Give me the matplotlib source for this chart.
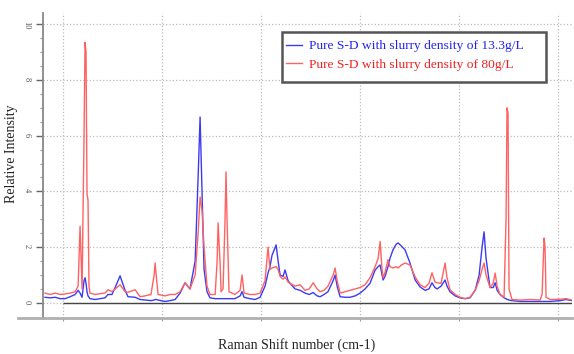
import numpy as np
import matplotlib.pyplot as plt
from matplotlib.patches import Rectangle

# Raman shift (arbitrary cm-1 scale, axis has no tick labels)
shift = [409, 435, 460, 485, 510, 536, 561, 576, 586, 596, 606, 611, 616, 621, 626, 631,
         636, 662, 687, 712, 727, 747, 763, 788, 813, 828, 864, 889, 914, 944, 960, 965,
         970, 980, 1015, 1040, 1066, 1091, 1116, 1141, 1167, 1182, 1192, 1202, 1212, 1227,
         1242, 1268, 1278, 1283, 1293, 1298, 1308, 1318, 1323, 1328, 1338, 1368, 1394, 1404,
         1414, 1444, 1470, 1495, 1520, 1535, 1545, 1555, 1576, 1586, 1596, 1611, 1621, 1636,
         1646, 1672, 1697, 1722, 1743, 1763, 1783, 1798, 1818, 1838, 1864, 1874, 1884, 1899,
         1924, 1949, 1975, 2000, 2025, 2050, 2076, 2091, 2101, 2111, 2116, 2126, 2141, 2151,
         2166, 2182, 2192, 2207, 2227, 2252, 2278, 2303, 2328, 2348, 2363, 2378, 2389, 2409,
         2429, 2439, 2454, 2480, 2505, 2530, 2555, 2581, 2601, 2616, 2626, 2636, 2656, 2672,
         2682, 2692, 2707, 2727, 2737, 2742, 2747, 2752, 2767, 2808, 2858, 2909, 2919, 2929,
         2934, 2939, 2960, 3010, 3040, 3070]

# slurry density 80 g/L
red = [0.35, 0.30, 0.35, 0.30, 0.32, 0.35, 0.40, 0.60, 2.75, 0.50, 6.0, 9.35, 9.0, 3.9, 3.7, 0.6,
       0.35, 0.30, 0.33, 0.35, 0.47, 0.40, 0.50, 0.65, 0.40, 0.38, 0.47, 0.22, 0.25, 0.30, 1.0, 1.43,
       1.0, 0.30, 0.25, 0.30, 0.30, 0.40, 0.72, 0.50, 1.0, 2.5, 3.8, 3.3, 2.0, 0.6,
       0.30, 0.30, 1.5, 2.87, 1.4, 0.4, 0.5, 3.0, 4.7, 3.0, 0.4, 0.30, 0.45, 1.0,
       0.35, 0.30, 0.30, 0.35, 0.8, 2.0, 1.2, 1.25, 1.3, 1.2, 0.95, 0.85, 0.93, 0.75,
       0.70, 0.60, 0.65, 0.45, 0.50, 0.72, 0.50, 0.40, 0.45, 0.60, 1.0, 1.25, 0.8, 0.35,
       0.40, 0.45, 0.50, 0.55, 0.65, 0.90, 1.3, 1.6, 2.2, 1.2, 0.9, 1.1, 1.55, 1.3,
       1.25, 1.3, 1.25, 1.35, 1.43, 1.36, 0.93, 0.65, 0.55, 0.70, 1.08, 0.75, 0.72, 0.70,
       1.43, 0.90, 0.47, 0.30, 0.20, 0.15, 0.20, 0.45, 0.80, 1.2, 1.43, 1.0, 0.55, 0.70,
       1.07, 0.60, 0.30, 0.20, 3.0, 7.0, 6.8, 0.5, 0.12, 0.10, 0.12, 0.10, 0.30, 2.33,
       2.0, 0.20, 0.12, 0.13, 0.15, 0.10]

# slurry density 13.3 g/L
blue = [0.20, 0.18, 0.20, 0.15, 0.15, 0.22, 0.30, 0.45, 0.35, 0.20, 0.80, 0.90, 0.70, 0.40, 0.25, 0.20,
        0.15, 0.12, 0.15, 0.18, 0.30, 0.30, 0.55, 0.97, 0.45, 0.22, 0.20, 0.12, 0.10, 0.08, 0.10, 0.12,
        0.12, 0.10, 0.05, 0.08, 0.12, 0.35, 0.72, 0.50, 1.5, 4.5, 6.67, 4.0, 1.2, 0.40,
        0.18, 0.15, 0.15, 0.15, 0.15, 0.15, 0.15, 0.15, 0.15, 0.15, 0.15, 0.15, 0.25, 0.40,
        0.20, 0.15, 0.12, 0.20, 0.60, 1.07, 1.3, 1.7, 2.08, 1.5, 1.0, 0.95, 1.18, 0.80,
        0.70, 0.50, 0.45, 0.35, 0.30, 0.37, 0.25, 0.22, 0.30, 0.40, 0.80, 1.0, 0.60, 0.22,
        0.20, 0.20, 0.25, 0.35, 0.50, 0.70, 1.18, 1.3, 1.36, 1.0, 0.82, 0.95, 1.3, 1.6,
        1.9, 2.1, 2.15, 2.05, 1.9, 1.43, 0.82, 0.57, 0.45, 0.50, 0.72, 0.55, 0.50, 0.60,
        0.82, 0.60, 0.40, 0.25, 0.18, 0.15, 0.18, 0.45, 1.0, 2.0, 2.55, 1.6, 0.55, 0.55,
        0.72, 0.45, 0.30, 0.18, 0.15, 0.12, 0.12, 0.10, 0.08, 0.05, 0.05, 0.05, 0.05, 0.05,
        0.05, 0.05, 0.05, 0.08, 0.12, 0.08]

labels = ['Pure S-D with slurry density of 13.3g/L', 'Pure S-D with slurry density of 80g/L']

plt.rcParams['font.family'] = ['Liberation Serif', 'DejaVu Serif']

fig = plt.figure(figsize=(5.74, 3.54), dpi=100)
ax = fig.add_axes([0.075, 0.102, 0.9215, 0.861])

ax.plot(shift, blue, color='#3b3bf5', lw=1.0, label=labels[0], zorder=3)
ax.plot(shift, red, color='#ff6262', lw=1.0, label=labels[1], zorder=4)
ax.hlines(0, 500, 3070, color='#444444', lw=1.0, zorder=2)

ax.set_xlim(399, 3070)
ax.set_ylim(-0.54, 10.4)

ax.set_yticks(np.arange(0, 11, 2))
ax.set_yticks(np.arange(0, 10.5, 0.5), minor=True)
ax.set_xticks(np.arange(500, 3001, 500))
ax.set_xticks(np.arange(750, 3001, 500), minor=True)
ax.set_xticklabels([])
ax.tick_params(axis='y', which='major', direction='out', length=5, width=1, color='#666666',
               labelsize=6, labelrotation=-90, labelcolor='#555555', pad=4)
ax.tick_params(axis='y', which='minor', direction='out', length=2.5, color='#888888')
ax.tick_params(axis='x', which='major', direction='out', length=2, color='#999999')
ax.tick_params(axis='x', which='minor', direction='out', length=1, color='#bbbbbb')

ax.grid(True, which='major', linestyle=':', color='#bbbbbb', lw=0.9)
ax.set_axisbelow(True)

for s in ['top', 'right']:
    ax.spines[s].set_visible(False)
ax.spines['left'].set_color('#888888')
ax.spines['left'].set_linewidth(1.3)
ax.spines['bottom'].set_color('#b0b0b0')
ax.spines['bottom'].set_linewidth(2.0)
# bottom axis line runs out past the y axis
ax.plot([-0.048, 0], [0, 0], transform=ax.transAxes, color='#b0b0b0', lw=2.0, clip_on=False)

ax.set_ylabel('Relative Intensity', fontsize=10, color='#222222')
ax.yaxis.set_label_coords(-0.048, 0.54)
ax.set_xlabel('Raman Shift number (cm-1)', fontsize=10, color='#222222')
ax.xaxis.set_label_coords(0.48, -0.065)

leg = ax.legend(loc='upper left', bbox_to_anchor=(0.452, 0.925), frameon=False, fontsize=9.7,
                handlelength=1.2, handletextpad=0.5, borderaxespad=0, borderpad=0.3,
                labelspacing=0.45)
for t, c in zip(leg.get_texts(), ['#2222ee', '#ee2222']):
    t.set_color(c)
ax.add_patch(Rectangle((0.452, 0.774), 0.499, 0.164, transform=ax.transAxes, fill=True,
                       facecolor='white', edgecolor='#555555', lw=1.8, zorder=5, clip_on=False))
leg.set_zorder(6)

fig.savefig('out.png', dpi=100)
